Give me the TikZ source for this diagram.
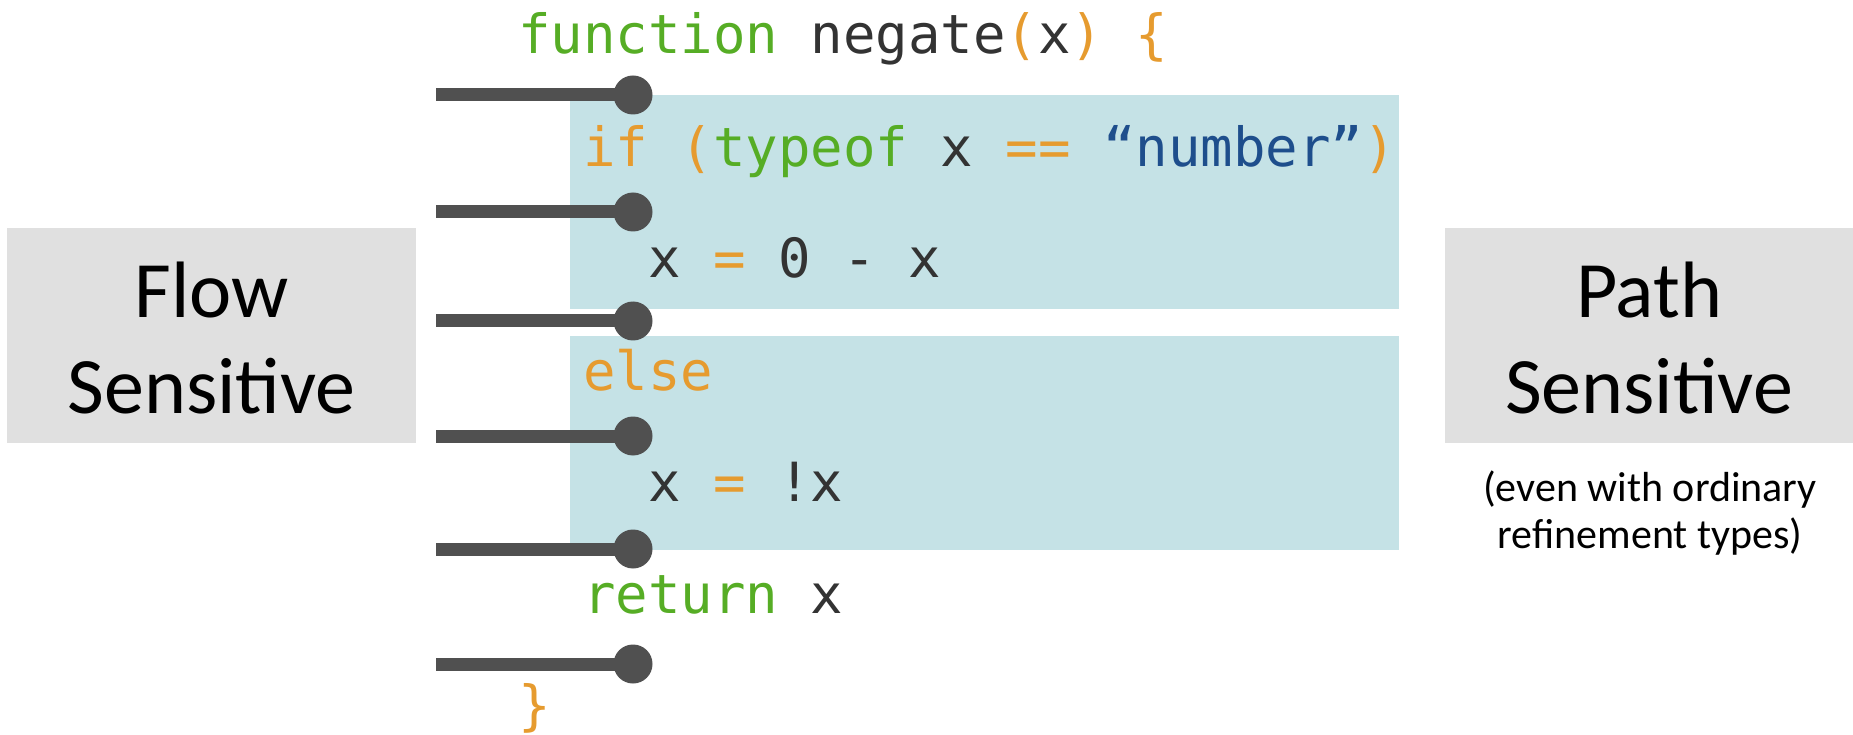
\documentclass[tikz,border=0pt]{standalone}
\usepackage{fontspec}
\setmainfont{Carlito}
\newfontfamily\codefont{DejaVu Sans Mono}
\definecolor{kwgreen}{HTML}{56AD25}
\definecolor{oporange}{HTML}{E69B2F}
\definecolor{codedark}{HTML}{333333}
\definecolor{strblue}{HTML}{1E4E8C}
\definecolor{blockblue}{HTML}{C5E2E6}
\definecolor{labelgray}{HTML}{E0E0E0}
\definecolor{bargray}{HTML}{505050}
\newcommand{\kw}[1]{\textcolor{kwgreen}{#1}}
\newcommand{\op}[1]{\textcolor{oporange}{#1}}
\newcommand{\st}[1]{\textcolor{strblue}{#1}}
\begin{document}
\begin{tikzpicture}[x=1pt,y=-1pt,
  codeline/.style={anchor=base west,inner sep=0pt,text=codedark,font=\codefont\fontsize{54}{60}\selectfont},
  bigtxt/.style={anchor=base,inner sep=0pt,font=\fontsize{80}{95}\selectfont},
  smalltxt/.style={anchor=base,inner sep=0pt,font=\fontsize{42}{47}\selectfont},
  labelbox/.style={fill=labelgray,draw=none,inner sep=0pt},
  blockbox/.style={fill=blockblue,draw=none,inner sep=0pt},
  knob/.style={circle,fill=bargray,draw=none,inner sep=0pt,minimum size=39pt},
  bar/.style={draw=bargray,line width=13pt}]
\useasboundingbox (0,0) rectangle (1853,735);
% label boxes
\node[labelbox,minimum width=409pt,minimum height=215pt] (flowbox) at (211.5,335.5) {};
\node[labelbox,minimum width=408pt,minimum height=215pt] (pathbox) at (1649,335.5) {};
\node[bigtxt] (flow1) at (211.5,318) {Flow};
\node[bigtxt] (flow2) at (211.5,413) {Sensitive};
\node[bigtxt] (path1) at (1649,318) {Path};
\node[bigtxt] (path2) at (1649,413) {Sensitive};
\node[smalltxt] (note1) at (1650,501) {(even with ordinary};
\node[smalltxt] (note2) at (1650,548) {refinement types)};
% code blocks
\node[blockbox,minimum width=829.5pt,minimum height=214pt] (blk1) at (984.25,202) {};
\node[blockbox,minimum width=829.5pt,minimum height=214pt] (blk2) at (984.25,443) {};
% program points
\foreach \i/\y in {1/95,2/212,3/321,4/436,5/549,6/664}{
  \coordinate (b\i) at (436,\y);
  \node[knob] (d\i) at (633,\y) {};
  \draw[bar] (b\i) -- (d\i.center);
}
% code
\node[codeline] (c0) at (518,54) {\kw{function} negate\op{(}x\op{)} \op{\{}};
\node[codeline] (c1) at (583,167) {\op{if} \op{(}\kw{typeof} x \op{==} \st{“number”}\op{)}};
\node[codeline] (c2) at (648,278) {x \op{=} 0 - x};
\node[codeline] (c3) at (583,390) {\op{else}};
\node[codeline] (c4) at (648,501) {x \op{=} !x};
\node[codeline] (c5) at (583,613) {\kw{return} x};
\node[codeline] (c6) at (518,724) {\op{\}}};
\end{tikzpicture}
\end{document}
